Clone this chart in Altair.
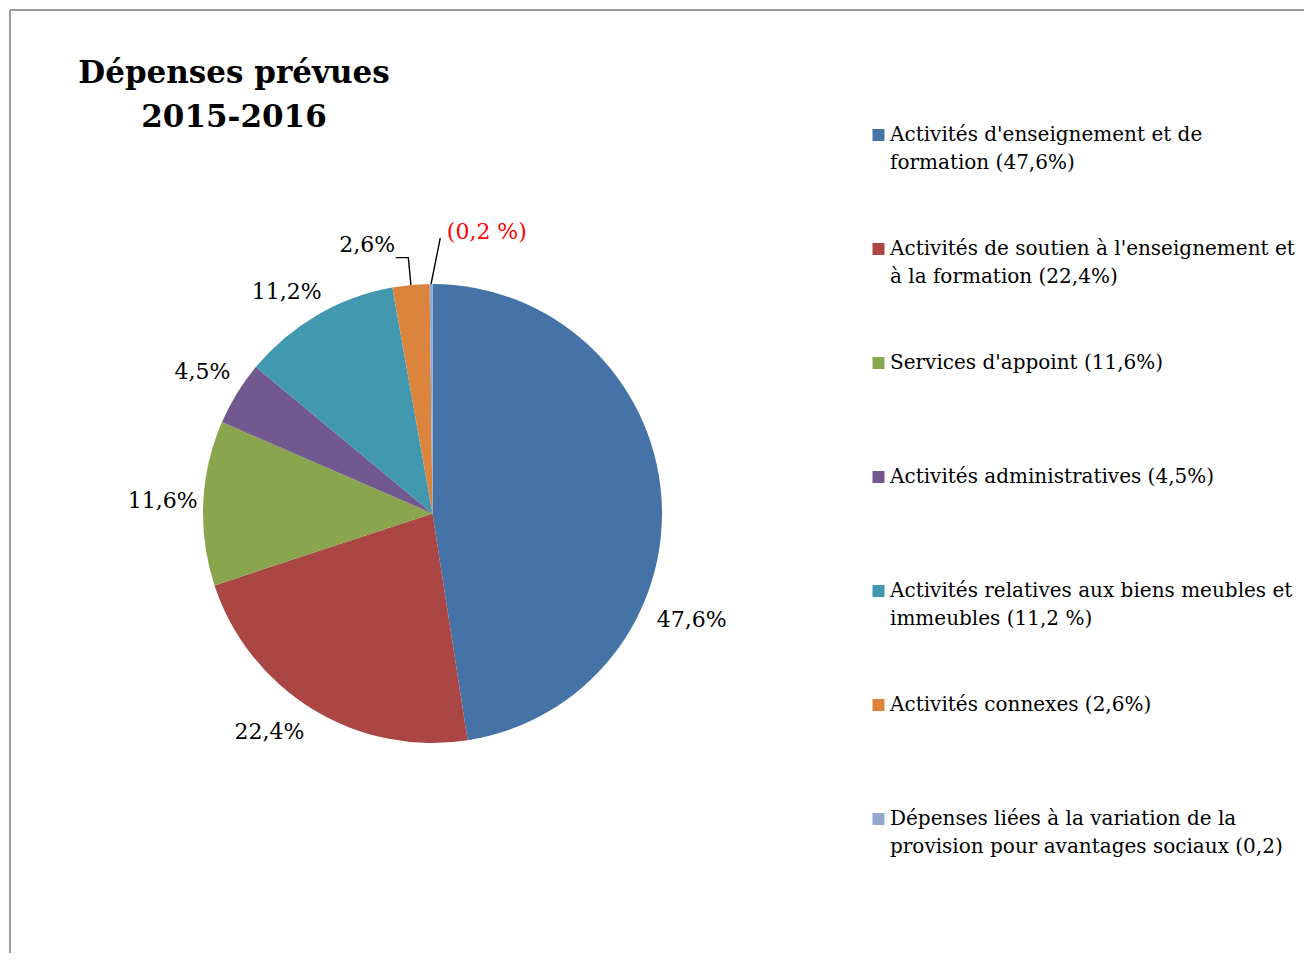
import altair as alt
import pandas as pd
import numpy as np

categories = [
    "Activités d'enseignement et de formation",
    "Activités de soutien à l'enseignement et à la formation",
    "Services d'appoint",
    "Activités administratives",
    "Activités relatives aux biens meubles et immeubles",
    "Activités connexes",
    "Dépenses liées à la variation de la provision pour avantages sociaux",
]
values = [47.6, 22.4, 11.6, 4.5, 11.2, 2.6, 0.2]
pie_labels = ["47,6%", "22,4%", "11,6%", "4,5%", "11,2%", "2,6%", "(0,2 %)"]
legend_line1 = [
    "Activités d'enseignement et de",
    "Activités de soutien à l'enseignement et",
    "Services d'appoint (11,6%)",
    "Activités administratives (4,5%)",
    "Activités relatives aux biens meubles et",
    "Activités connexes (2,6%)",
    "Dépenses liées à la variation de la",
]
legend_line2 = [
    "formation (47,6%)",
    "à la formation (22,4%)",
    "",
    "",
    "immeubles (11,2 %)",
    "",
    "provision pour avantages sociaux (0,2)",
]
colors = ["#4572A7", "#AA4643", "#89A54E", "#71588F", "#4198AF", "#DB843D", "#93A9CF"]
title_lines = ["Dépenses prévues", "2015-2016"]

FONT = "DejaVu Serif"
W, H = 1296, 945
CX, CY, R = 424.5, 505.5, 229.5
LABEL_R = 270

total = float(sum(values))
cum = np.cumsum(values)
df = pd.DataFrame({
    "cat": categories,
    "value": values,
    "idx": list(range(len(values))),
    "label": pie_labels,
    "l1": legend_line1,
    "l2": legend_line2,
    "start": cum - np.array(values),
    "end": cum,
})
df["mid"] = (df["start"] + df["end"]) / 2

# leader lines for the two small slices (pie units, radius 1 = slice edge)
lead_rows = []
for i in (5, 6):
    ang = df.loc[i, "mid"] / total * 2 * np.pi
    sx, sy = np.sin(ang), np.cos(ang)
    if i == 5:
        pts = [(sx, sy), (sx * 1.12, sy * 1.12), (sx * 1.12 - 0.055, sy * 1.12)]
    else:
        pts = [(sx, sy), (sx + 0.04, 1.2)]
    for k, (px, py) in enumerate(pts):
        lead_rows.append({"cat": categories[i], "k": k, "lx": px, "ly": py})
lead = pd.DataFrame(lead_rows)

theta_scale = alt.Scale(domain=[0, total], range=[0, 2 * np.pi])
color = alt.Color("cat:N", scale=alt.Scale(domain=categories, range=colors), legend=None)

base = alt.Chart(df)

arcs = base.mark_arc(outerRadius=R).encode(
    theta=alt.Theta("start:Q", scale=theta_scale),
    theta2="end:Q",
    color=color,
    x=alt.value(CX),
    y=alt.value(CY),
)

def pie_text(ids, **kw):
    props = dict(radius=LABEL_R, font=FONT, fontSize=22, baseline="middle", color="black")
    props.update(kw)
    return base.transform_filter(
        alt.FieldOneOfPredicate(field="idx", oneOf=ids)
    ).mark_text(**props).encode(
        theta=alt.Theta("mid:Q", scale=theta_scale),
        text="label:N",
        x=alt.value(CX),
        y=alt.value(CY),
    )

lab_side = pie_text([2, 3])
lab_low = pie_text([1], dx=-22, dy=-12)
lab_up = pie_text([4], dx=-10, dy=12)
lab_big = pie_text([0], dx=-10, dy=127)
lab_small = pie_text([5], align="right", dx=-12)
lab_tiny = pie_text([6], align="left", dx=16, dy=-12, color="#FF0000")

leaders = alt.Chart(lead).mark_line(color="black", strokeWidth=1.4).encode(
    x=alt.X("lx:Q", scale=alt.Scale(domain=[-1, 1], range=[CX - R, CX + R]), axis=None),
    y=alt.Y("ly:Q", scale=alt.Scale(domain=[-1, 1], range=[CY + R, CY - R]), axis=None),
    detail="cat:N",
    order="k:Q",
)

leg_y = alt.Y("idx:Q", scale=alt.Scale(domain=[0, 6], range=[127, 811]), axis=None)
leg_sq = base.mark_square(size=144, opacity=1).encode(
    x=alt.value(870.5), y=leg_y, color=color
)
leg_t1 = base.mark_text(align="left", baseline="middle", font=FONT, fontSize=20, color="black").encode(
    x=alt.value(882), y=leg_y, text="l1:N"
)
leg_t2 = base.mark_text(align="left", baseline="middle", font=FONT, fontSize=20, color="black", dy=28).encode(
    x=alt.value(882), y=leg_y, text="l2:N"
)

tdf = pd.DataFrame({"t": title_lines, "i": [0, 1]})
title = alt.Chart(tdf).mark_text(
    align="center", baseline="alphabetic", font=FONT, fontSize=31, fontWeight="bold", color="black"
).encode(
    x=alt.value(226),
    y=alt.Y("i:Q", scale=alt.Scale(domain=[0, 1], range=[75, 119]), axis=None),
    text="t:N",
)

border_l = alt.Chart(tdf).mark_rule(color="#999999", strokeWidth=2).encode(
    x=alt.value(2), y=alt.value(2), y2=alt.value(H + 10)
)
border_t = alt.Chart(tdf).mark_rule(color="#999999", strokeWidth=2).encode(
    x=alt.value(2), x2=alt.value(W + 10), y=alt.value(2)
)

chart = alt.layer(
    border_l, border_t, arcs, leaders, lab_side, lab_low, lab_up, lab_big, lab_small, lab_tiny,
    leg_sq, leg_t1, leg_t2, title
).resolve_scale(
    x="independent", y="independent"
).properties(
    width=W, height=H, autosize=alt.AutoSizeParams(type="none"), padding=0
).configure_view(stroke=None)

chart.save("out.html", embed_options={"renderer": "svg", "actions": False})
